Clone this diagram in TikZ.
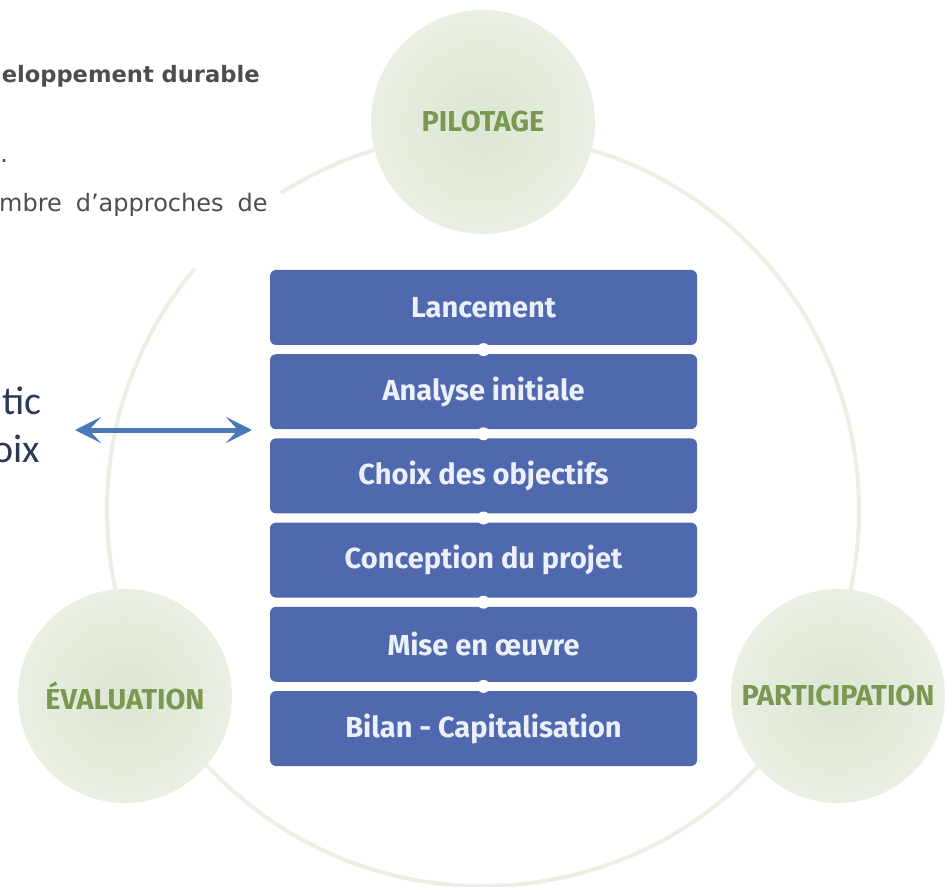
\documentclass[tikz,border=0pt]{standalone}
\usepackage{fontspec}
\usepackage{xcolor}
\usepackage{tikz}
\usetikzlibrary{arrows.meta}
\usetikzlibrary{positioning}

\newfontfamily\boxfont{Fira Sans}
\newfontfamily\notefont{DejaVu Sans}
\newfontfamily\sidefont{Carlito}

\definecolor{stepblue}{RGB}{80,104,173}
\definecolor{stepwhite}{RGB}{236,240,250}
\definecolor{rimgrey}{RGB}{238,238,228}
\definecolor{leafgreen}{RGB}{122,152,80}
\definecolor{discin}{RGB}{220,230,212}
\definecolor{discout}{RGB}{233,239,226}
\definecolor{arrowblue}{RGB}{74,121,181}
\definecolor{notegrey}{RGB}{77,77,77}
\definecolor{sideslate}{RGB}{46,58,85}

\begin{document}
\begin{tikzpicture}[x=0.5pt, y=-0.5pt,
    stepbox/.style={rectangle, rounded corners=3pt, fill=stepblue, text=stepwhite,
        minimum width=213.5pt, minimum height=37.5pt, inner sep=0pt,
        font=\boxfont\bfseries\fontsize{14.5}{16}\selectfont},
    disc/.style={circle, inner sep=0pt, inner color=discin, outer color=discout,
        text=leafgreen, font=\boxfont\bfseries\fontsize{14.4}{16}\selectfont},
    joint/.style={circle, fill=white, minimum size=6.5pt, inner sep=0pt},
    note/.style={inner sep=0pt, text=notegrey},
    side/.style={inner sep=0pt, text=sideslate, font=\sidefont\fontsize{20}{22}\selectfont},
    twoway/.style={draw=arrowblue, line width=2.5pt,
        {Stealth[length=13pt,width=13pt,inset=6pt]}-{Stealth[length=13pt,width=13pt,inset=6pt]}}]
    \useasboundingbox (0,0) rectangle (947,887);
    \clip (0,0) rectangle (947,887);

    % outer ring, broken where the text column sits
    \draw[rimgrey, line width=2pt] (483,510) ++(140:188pt) arc[start angle=140, end angle=482.5, radius=188pt];

    \node[disc, minimum size=112pt] (pilotage) at (483,122) {PILOTAGE};
    \node[disc, minimum size=107pt] (evaluation) at (125,696) {ÉVALUATION};
    \node[disc, minimum size=107pt] (participation) at (838,696) {PARTICIPATION};

    \node[stepbox] (lancement) at (483.5,307.5) {Lancement};
    \node[stepbox, below=4.2pt of lancement] (analyse) {Analyse initiale};
    \node[stepbox, below=4.2pt of analyse] (objectifs) {Choix des objectifs};
    \node[stepbox, below=4.2pt of objectifs] (conception) {Conception du projet};
    \node[stepbox, below=4.2pt of conception] (oeuvre) {Mise en œuvre};
    \node[stepbox, below=4.2pt of oeuvre] (bilan) {Bilan - Capitalisation};
    \foreach \a/\b in {lancement/analyse, analyse/objectifs, objectifs/conception, conception/oeuvre, oeuvre/bilan}
        \path (\a.south) -- (\b.north) node[joint, midway] {};

    \node[note, anchor=base east, font=\notefont\bfseries\fontsize{11.3}{13}\selectfont] (durable) at (260,83) {eloppement durable};
    \node[note, anchor=base west, font=\notefont\fontsize{12}{14}\selectfont] (point) at (0,163) {.};
    \node[note, anchor=base east, font=\notefont\fontsize{12}{14}\selectfont] (approches) at (268,212) {mbre\hspace{7pt}d’approches\hspace{7pt}de};
    \node[side, anchor=base east] (diag) at (42,415) {tic};
    \node[side, anchor=base east] (choix) at (40,462) {oix};

    \coordinate (farend) at (75,430);
    \coordinate (nearend) at (252,430);
    \draw[twoway] (farend) -- (nearend);
\end{tikzpicture}
\end{document}
